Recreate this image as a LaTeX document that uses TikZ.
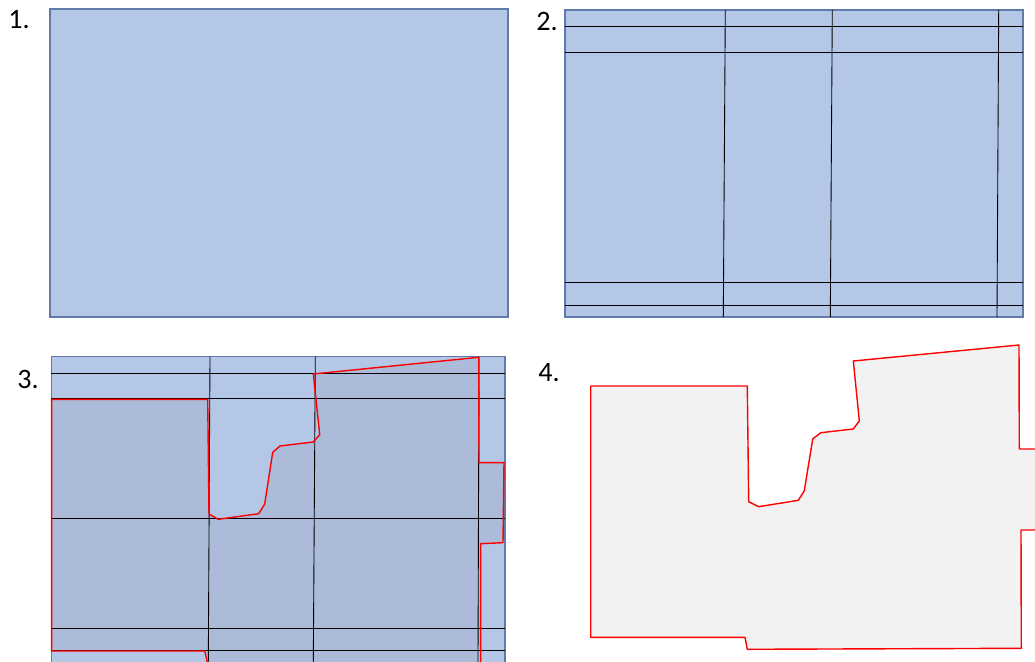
\documentclass[tikz,border=0pt]{standalone}
\usepackage{fontspec}
\setmainfont{Carlito}
\usepackage{xcolor}
\definecolor{sheetblue}{RGB}{180,199,231}
\definecolor{sheetedge}{RGB}{96,122,170}
\definecolor{overlap}{RGB}{171,187,217}
\definecolor{plotgray}{RGB}{242,242,242}

\begin{document}
\begin{tikzpicture}[
  x=0.02cm, y=-0.02cm,
  font=\fontsize{16}{18}\selectfont,
  sheet/.style={fill=sheetblue, draw=sheetedge, line width=0.8pt},
  cut/.style={draw=black, line width=0.5pt},
  plot/.style={draw=red, line width=0.8pt, line join=round},
  num/.style={inner sep=0pt, anchor=center}
]
\useasboundingbox (0,0) rectangle (1035,662);
\begin{scope}
\clip (0,0) rectangle (1035,662);

% panel 1: whole sheet
\node[num] (l1) at (19,20) {1.};
\draw[sheet] (50,9) rectangle (508,317);

% panel 2: sheet with cutting lines
\node[num] (l2) at (547,21) {2.};
\draw[sheet] (565,10) rectangle (1023,317);
\draw[cut] (565,26.3) -- (1023,26.3);
\draw[cut] (565,52) -- (1023,52);
\draw[cut] (565,282) -- (1023,282);
\draw[cut] (565,305.3) -- (1023,305.3);
\draw[cut] (725.3,10) -- (723.3,317);
\draw[cut] (832.3,10) -- (830.3,317);
\draw[cut] (998.7,10) -- (997,317);

% panel 3: plot laid over the grid
\node[num] (l3) at (28,379) {3.};
\draw[sheet] (51.3,356.7) rectangle (505,690);
\fill[overlap] (51.7,399.3) -- (207.7,399.3) -- (209,514) -- (218.3,519.3)
  -- (258.7,513.7) -- (264.7,504) -- (272.7,452.3) -- (280,446) -- (313.3,442)
  -- (319.7,434.7) -- (313.3,374) -- (478.7,357.3) -- (479,462.7) -- (504,462.7)
  -- (503,542.7) -- (480.7,543.7) -- (480.7,680) -- (209,680) -- (207.3,662)
  -- (204.7,651) -- (51.7,651) -- cycle;
\draw[cut] (51.3,373.3) -- (505,373.3);
\draw[cut] (51.3,398.3) -- (505,398.3);
\draw[cut] (51.3,518.7) -- (505,518.7);
\draw[cut] (51.3,628.3) -- (505,628.3);
\draw[cut] (51.3,650.7) -- (505,650.7);
\draw[cut] (210,356.7) -- (208.3,662);
\draw[cut] (315.3,356.7) -- (313.3,662);
\draw[cut] (479,356.7) -- (478,662);
\draw[plot] (207.3,662) -- (204.7,651) -- (51.7,651) -- (51.7,399.3) -- (207.7,399.3)
  -- (209,514) -- (218.3,519.3) -- (258.7,513.7) -- (264.7,504) -- (272.7,452.3)
  -- (280,446) -- (313.3,442) -- (319.7,434.7) -- (313.3,374) -- (478.7,357.3)
  -- (479,462.7) -- (504,462.7) -- (503,542.7) -- (480.7,543.7) -- (480.7,680);

% panel 4: plot on its own
\node[num] (l4) at (549,373) {4.};
\draw[plot, fill=plotgray] (590.7,386) -- (747.3,386) -- (748.7,501.7) -- (758.7,506.7)
  -- (798.3,500.3) -- (804.3,490.7) -- (812.7,439) -- (820.7,432.7) -- (853.3,429)
  -- (859.3,421) -- (853.3,361) -- (1019,345) -- (1019.3,449) -- (1050,449)
  -- (1050,530) -- (1021,530) -- (1021.3,648.3) -- (747.3,649.3) -- (745,637.3)
  -- (590.7,637.3) -- cycle;
\end{scope}
\end{tikzpicture}
\end{document}
